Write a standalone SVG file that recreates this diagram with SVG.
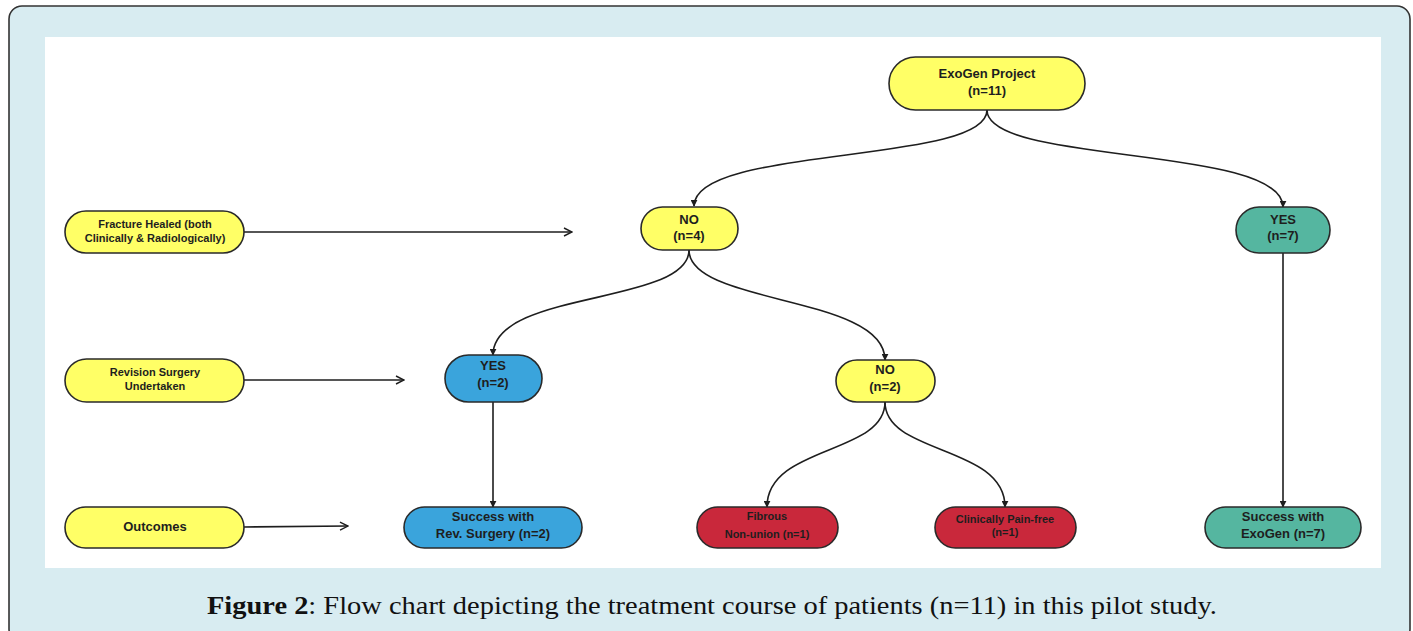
<svg xmlns="http://www.w3.org/2000/svg" width="1413" height="631" viewBox="0 0 1413 631">
<defs>
<style>
.n{stroke:#2a2a2a;stroke-width:1.6}
.y{fill:#ffff66}
.b{fill:#3aa4dc}
.g{fill:#55b6a0}
.r{fill:#c9283b}
.t{font-family:"Liberation Sans",Arial,sans-serif;font-weight:bold;font-size:13px;fill:#1e1e1e;text-anchor:middle}
.s{font-size:11px}
.c{fill:none;stroke:#1e1e1e;stroke-width:1.6}
</style>
<marker id="tri" viewBox="0 0 10 10" refX="9" refY="5" markerWidth="7" markerHeight="7" orient="auto" markerUnits="userSpaceOnUse">
<path d="M0,0 L10,5 L0,10 z" fill="#1e1e1e"/>
</marker>
<marker id="open" viewBox="0 0 10 10" refX="9" refY="5" markerWidth="10" markerHeight="10" orient="auto" markerUnits="userSpaceOnUse">
<path d="M1,1 L9,5 L1,9" fill="none" stroke="#1e1e1e" stroke-width="1.4"/>
</marker>
</defs>
<rect x="9" y="6" width="1401" height="636" rx="13" fill="#d8ecf1" stroke="#333" stroke-width="1.6"/>
<rect x="45" y="37" width="1336" height="531" fill="#ffffff"/>

<g id="connectors">
<path class="c" d="M987,110 C987,165 694,145 694,206" marker-end="url(#tri)"/>
<path class="c" d="M987,110 C987,165 1283,145 1283,207" marker-end="url(#tri)"/>
<path class="c" d="M689,250 C689,305 493,290 493,355" marker-end="url(#tri)"/>
<path class="c" d="M689,250 C689,305 885,295 885,360" marker-end="url(#tri)"/>
<path class="c" d="M493,402 L493,507" marker-end="url(#tri)"/>
<path class="c" d="M885,402 C885,455 767,445 767,507" marker-end="url(#tri)"/>
<path class="c" d="M885,402 C885,455 1005,445 1005,507" marker-end="url(#tri)"/>
<path class="c" d="M1283,253 L1283,507" marker-end="url(#tri)"/>
<path class="c" d="M244,232 L572,232" marker-end="url(#open)"/>
<path class="c" d="M244,380 L404,380" marker-end="url(#open)"/>
<path class="c" d="M244,527 L348,526" marker-end="url(#open)"/>
</g>

<g id="exogen">
<rect class="n y" x="889" y="57" width="196" height="53" rx="26.5"/>
<text class="t" x="987" y="78">ExoGen Project</text>
<text class="t" x="987" y="95">(n=11)</text>
</g>
<g id="label-fracture">
<rect class="n y" x="65" y="211" width="179" height="42" rx="21"/>
<text class="t s" x="155" y="228">Fracture Healed (both</text>
<text class="t s" x="155" y="242">Clinically &amp; Radiologically)</text>
</g>
<g id="no4">
<rect class="n y" x="641" y="207" width="97" height="43" rx="21.5"/>
<text class="t" x="689" y="224">NO</text>
<text class="t" x="689" y="240">(n=4)</text>
</g>
<g id="yes7">
<rect class="n g" x="1236" y="207" width="94" height="46" rx="23"/>
<text class="t" x="1283" y="224">YES</text>
<text class="t" x="1283" y="240">(n=7)</text>
</g>
<g id="label-revision">
<rect class="n y" x="65" y="359" width="179" height="43" rx="21.5"/>
<text class="t s" x="155" y="376">Revision Surgery</text>
<text class="t s" x="155" y="390">Undertaken</text>
</g>
<g id="yes2">
<rect class="n b" x="445" y="355" width="97" height="47" rx="23.5"/>
<text class="t" x="493" y="370">YES</text>
<text class="t" x="493" y="387">(n=2)</text>
</g>
<g id="no2">
<rect class="n y" x="836" y="360" width="99" height="42" rx="21"/>
<text class="t" x="885" y="374">NO</text>
<text class="t" x="885" y="391">(n=2)</text>
</g>
<g id="label-outcomes">
<rect class="n y" x="65" y="507" width="179" height="41" rx="20.5"/>
<text class="t" x="155" y="531">Outcomes</text>
</g>
<g id="success-rev">
<rect class="n b" x="404" y="507" width="178" height="41" rx="20.5"/>
<text class="t" x="493" y="521">Success with</text>
<text class="t" x="493" y="538">Rev. Surgery (n=2)</text>
</g>
<g id="fibrous">
<rect class="n r" x="697" y="507" width="141" height="41" rx="20.5"/>
<text class="t s" x="767" y="520">Fibrous</text>
<text class="t s" x="767" y="538">Non-union (n=1)</text>
</g>
<g id="painfree">
<rect class="n r" x="935" y="507" width="141" height="41" rx="20.5"/>
<text class="t s" x="1005" y="523">Clinically Pain-free</text>
<text class="t s" x="1005" y="536">(n=1)</text>
</g>
<g id="success-exogen">
<rect class="n g" x="1205" y="507" width="156" height="41" rx="20.5"/>
<text class="t" x="1283" y="521">Success with</text>
<text class="t" x="1283" y="538">ExoGen (n=7)</text>
</g>

<text x="207" y="614" font-family="'Liberation Serif','Times New Roman',serif" font-size="26" fill="#111" textLength="1010" lengthAdjust="spacingAndGlyphs"><tspan font-weight="bold">Figure 2</tspan>: Flow chart depicting the treatment course of patients (n=11) in this pilot study.</text>
</svg>
